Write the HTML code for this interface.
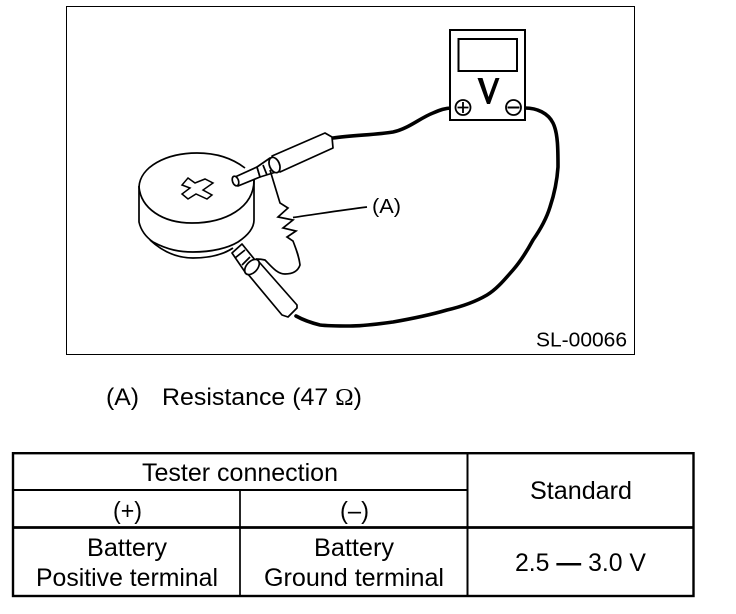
<!DOCTYPE html>
<html>
<head>
<meta charset="utf-8">
<style>
html,body{margin:0;padding:0;background:#fff;}
body{width:736px;height:614px;overflow:hidden;position:relative;}
svg{position:absolute;left:0;top:0;}
text{font-family:"Liberation Sans",sans-serif;fill:#000;}
</style>
</head>
<body>
<svg width="736" height="614" viewBox="0 0 736 614" xmlns="http://www.w3.org/2000/svg">
<rect width="736" height="614" fill="#fff"/>
<!-- frame -->
<rect x="66.500" y="6.500" width="568" height="348" fill="none" stroke="#000" stroke-width="1"/>

<!-- battery -->
<g fill="none" stroke="#000" stroke-width="1.700">
<path d="M139 187C140 167 166 153 197 153C215 153 232 158 245 168"/>
<path d="M139 187C141 208 162 223 192 223C225 223 254 208 254 180"/>
<path d="M139 186V222C141 231 146 237 153 242C168 250 180 252 193 252C212 252 228 248 238 242C247 236 254 229 254 220V180"/>
<path d="M150 240C163 252 178 258 193 258C210 258 224 254 233 248"/>
<path d="M188 178L195 183L205 179L213 183L203 190L212 195L207 199L196 194L188 199L182 194L190 188L182 185Z" stroke-width="1.500"/>
</g>

<!-- wires -->
<g fill="none" stroke="#000" stroke-linecap="round">
<path d="M333 138C352 135 375 135 393 132C408 129 420 118 433 113C440 110 445 108 452 108" stroke-width="3.600"/>
<path d="M525 108C537 108 548 113 553 123C558 133 558 150 558 167C557 182 554 195 550 207C546 220 540 230 533 240C527 251 520 262 513 270C505 279 497 289 487 295C475 302 460 307 447 310C430 315 410 319 393 322C378 324 364 326 350 326C338 326 328 326 320 325C312 323 305 321 296 316" stroke-width="3.600"/>
</g>

<!-- upper probe -->
<g fill="#fff" stroke="#000" stroke-width="1.700" stroke-linejoin="round">
<path d="M235 177L257 167L260 177L238 186Z"/>
<ellipse cx="235.500" cy="181" rx="3" ry="5" transform="rotate(-20 235.500 181)"/>
<path d="M257 167L270 158L276 172L260 177Z"/>
<path d="M263 165L267 175" fill="none"/>
<path d="M272 156L325 133L332 137L333 148L280 172Z"/>
<ellipse cx="274.500" cy="165" rx="5" ry="8" transform="rotate(-22 274.500 165)"/>
</g>

<!-- lower probe -->
<g fill="#fff" stroke="#000" stroke-width="1.700" stroke-linejoin="round">
<path d="M232 253L242 244L255 260L245 272Z"/>
<path d="M235 258L245 250M242 265L250 257" fill="none"/>
<path d="M247 273L260 263L297 305L297 308L288 317L282 315Z"/>
<ellipse cx="252" cy="267" rx="5.500" ry="9" transform="rotate(42 252 267)"/>
</g>

<!-- resistor leads -->
<g fill="none" stroke="#000" stroke-width="1.700" stroke-linejoin="miter">
<path d="M270 170L280 203L288 208L278 217L293 220L283 228L296 231L287 237L293 241C296 249 299 256 300 265C298 271 293 274 285 274C277 274 271 266 265 260C261 259 258 259 256 259"/>
<path d="M293 217.500C318 214 342 210 367 207"/>
</g>

<!-- meter -->
<rect x="450" y="30" width="75" height="90" fill="#fff" stroke="#000" stroke-width="2"/>
<rect x="458.500" y="39" width="58.500" height="32" fill="#fff" stroke="#000" stroke-width="2"/>
<path d="M477.500 78H482.500L488.500 97L495.500 78H499.500L490 104H487Z" fill="#000"/>
<circle cx="463" cy="107.500" r="7.500" fill="#fff" stroke="#000" stroke-width="1.800"/>
<path d="M457.500 107.500H468.500M463 102V113" stroke="#000" stroke-width="1.800"/>
<circle cx="513.500" cy="107.500" r="7.500" fill="#fff" stroke="#000" stroke-width="1.800"/>
<path d="M507.500 107.500H519.500" stroke="#000" stroke-width="2"/>

<!-- diagram labels -->
<text x="372" y="213" font-size="20" textLength="29" lengthAdjust="spacingAndGlyphs">(A)</text>
<text x="536" y="346.500" font-size="20.500" textLength="91" lengthAdjust="spacingAndGlyphs">SL-00066</text>
<text x="106" y="405" font-size="24" textLength="33" lengthAdjust="spacingAndGlyphs">(A)</text>
<text x="162" y="405" font-size="24" textLength="200" lengthAdjust="spacingAndGlyphs">Resistance (47 <tspan style="font-family:'Liberation Serif',serif">Ω</tspan>)</text>

<!-- table -->
<rect x="13" y="453.200" width="680.500" height="142.800" fill="none" stroke="#000" stroke-width="2.400"/>
<path d="M467.500 453V596" stroke="#000" stroke-width="2"/>
<path d="M240 490V596" stroke="#000" stroke-width="1.700"/>
<path d="M13 490H467" stroke="#000" stroke-width="2"/>
<path d="M13 527.500H693" stroke="#000" stroke-width="2.800"/>

<text x="142" y="481" font-size="25" textLength="196" lengthAdjust="spacingAndGlyphs">Tester connection</text>
<text x="530" y="499" font-size="25" textLength="102" lengthAdjust="spacingAndGlyphs">Standard</text>
<text x="113" y="519" font-size="25" textLength="29" lengthAdjust="spacingAndGlyphs">(+)</text>
<text x="340" y="519" font-size="25" textLength="29" lengthAdjust="spacingAndGlyphs">(–)</text>
<text x="87" y="556" font-size="25" textLength="80" lengthAdjust="spacingAndGlyphs">Battery</text>
<text x="36" y="586" font-size="25" textLength="182" lengthAdjust="spacingAndGlyphs">Positive terminal</text>
<text x="314" y="556" font-size="25" textLength="80" lengthAdjust="spacingAndGlyphs">Battery</text>
<text x="264" y="586" font-size="25" textLength="180" lengthAdjust="spacingAndGlyphs">Ground terminal</text>
<text x="515" y="571" font-size="25" textLength="131" lengthAdjust="spacingAndGlyphs">2.5 <tspan font-weight="bold">—</tspan> 3.0 V</text>
</svg>
</body>
</html>
